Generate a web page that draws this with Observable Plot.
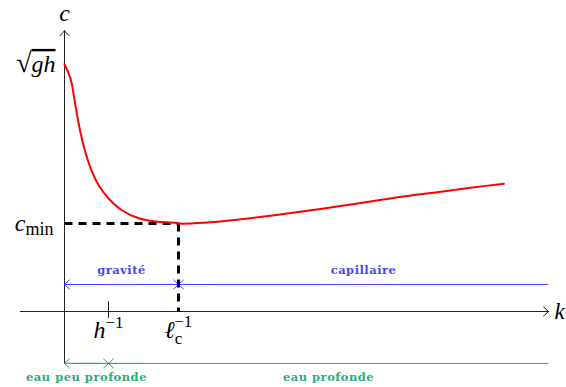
<!DOCTYPE html>
<html>
<head>
<meta charset="utf-8">
<script src="https://cdn.jsdelivr.net/npm/d3@7"></script>
<script src="https://cdn.jsdelivr.net/npm/@observablehq/plot@0.6"></script>
<style>
  html, body { margin: 0; padding: 0; background: #fff; }
  svg { display: block; }
</style>
</head>
<body>
<div id="chart"></div>
<script>
// Phase speed c(k) of surface waves — k in units of 1/ℓc, c in units of c_min
const kCurve = [0, 0.053, 0.096, 0.140, 0.184, 0.243, 0.301, 0.389, 0.506, 0.652, 0.798, 0.974, 1.0,
                1.222, 1.515, 1.807, 2.099, 2.392, 2.684, 2.976, 3.269, 3.561, 3.854];
const cCurve = [2.81, 2.644, 2.341, 2.034, 1.807, 1.583, 1.432, 1.281, 1.148, 1.060, 1.023, 1.008, 1.0,
                1.008, 1.042, 1.088, 1.140, 1.193, 1.250, 1.307, 1.356, 1.406, 1.451];

// Characteristic values
const hInv = 0.386;     // 1/h
const lcInv = 1;        // 1/ℓc
const cMin = 1;         // minimum phase speed
const sqrtGh = 2.81;    // shallow-water limit √(gh)

// Axis extents
const kAxis = [-0.386, 4.246];
const cAxis = [-0.59, 3.19];

// Regimes: boundaries along k, band level, names
const waveBounds = [0, lcInv, kAxis[1]];
const waveLevel = 0.307;
const waveNames = ["gravité", "capillaire"];
const depthBounds = [0, hInv, kAxis[1]];
const depthLevel = cAxis[0];
const depthNames = ["eau peu profonde", "eau profonde"];

const blue = "#4646ff";
const green = "#2eaa78";

const curve = kCurve.map((k, i) => ({k, c: cCurve[i]}));

// Arrow heads: "<" at the left end, "><" at the inner boundary
function heads(bounds, level) {
  const e = 0.3;
  return [
    {x1: bounds[0] + e, x2: bounds[0], y: level},
    {x1: bounds[1] - e, x2: bounds[1], y: level},
    {x1: bounds[1] + e, x2: bounds[1], y: level}
  ];
}
function labels(bounds, names) {
  return names.map((name, i) => ({name, k: (bounds[i] + bounds[i + 1]) / 2}));
}

const headOpts = {headLength: 10, headAngle: 85, strokeWidth: 1};
const mathFont = "'Liberation Serif', 'DejaVu Serif', serif";
const smallFont = "'DejaVu Serif', serif";

const svg = Plot.plot({
  width: 566,
  height: 387,
  margin: 0,
  x: {domain: [0, 1], range: [64, 178], axis: null},
  y: {domain: [0, 1], range: [311, 223], axis: null},
  style: {background: "white"},
  marks: [
    // axes
    Plot.arrow([0], {x1: kAxis[0], y1: 0, x2: kAxis[1], y2: 0, stroke: "#222", ...headOpts}),
    Plot.arrow([0], {x1: 0, y1: cAxis[0], x2: 0, y2: cAxis[1], stroke: "#222", ...headOpts}),
    // tick at 1/h
    Plot.ruleX([hInv], {y1: -0.08, y2: 0.11, stroke: "#222", strokeWidth: 1}),

    // regime bands
    Plot.link([0], {x1: waveBounds[0], x2: waveBounds[2], y1: waveLevel, y2: waveLevel, stroke: blue, strokeWidth: 1}),
    Plot.arrow(heads(waveBounds, waveLevel), {x1: "x1", x2: "x2", y1: "y", y2: "y", stroke: blue, ...headOpts}),
    Plot.text(labels(waveBounds, waveNames), {x: "k", y: () => waveLevel, text: "name", fill: blue,
      fontFamily: smallFont, fontSize: 11.5, fontWeight: 600, lineAnchor: "bottom", dy: -10}),

    Plot.link([0], {x1: depthBounds[0], x2: depthBounds[2], y1: depthLevel, y2: depthLevel, stroke: green, strokeWidth: 1}),
    Plot.arrow(heads(depthBounds, depthLevel), {x1: "x1", x2: "x2", y1: "y", y2: "y", stroke: green, ...headOpts}),
    Plot.text(labels(depthBounds, depthNames), {x: "k", y: () => depthLevel, text: "name", fill: green,
      fontFamily: smallFont, fontSize: 11.5, fontWeight: 600, lineAnchor: "bottom", dy: 18}),

    // minimum of c(k)
    Plot.link([0], {x1: 0, y1: cMin, x2: lcInv, y2: cMin, stroke: "black", strokeWidth: 3, strokeDasharray: "8,6"}),
    Plot.link([0], {x1: lcInv, y1: cMin, x2: lcInv, y2: 0, stroke: "black", strokeWidth: 3, strokeDasharray: "8,6"}),

    // dispersion curve
    Plot.line(curve, {x: "k", y: "c", stroke: "red", strokeWidth: 2, curve: "catmull-rom"}),

    // math labels
    Plot.text(["c"], {x: 0, y: cAxis[1], text: d => d, fontFamily: mathFont, fontSize: 24, lineAnchor: "bottom", dy: -10}),
    Plot.text(["k"], {x: kAxis[1], y: 0, text: d => d, fontFamily: mathFont, fontSize: 23, textAnchor: "start", dx: 6}),
    Plot.text(["√gh"], {x: 0, y: sqrtGh, text: d => d, fontFamily: mathFont, fontSize: 24, textAnchor: "end", dx: -9}),
    Plot.text(["cmin"], {x: 0, y: cMin, text: d => d, fontFamily: mathFont, fontSize: 24, textAnchor: "end", dx: -11}),
    Plot.text(["h−1"], {x: hInv, y: 0, text: d => d, fontFamily: mathFont, fontSize: 24, lineAnchor: "bottom", dy: 26}),
    Plot.text(["ℓc−1"], {x: lcInv, y: 0, text: d => d, fontFamily: mathFont, fontSize: 24, lineAnchor: "bottom", dy: 26})
  ]
});

// Typeset math labels with italic letters, sub- and superscripts
const rich = {
  "c": [{s: "c", italic: true}],
  "k": [{s: "k", italic: true}],
  "√gh": [{s: "√", size: 28}, {s: "gh", italic: true, overline: true}],
  "cmin": [{s: "c", italic: true}, {s: "min", size: 18, dy: 4}],
  "h−1": [{s: "h", italic: true}, {s: "−1", size: 17, dy: -10}],
  "ℓc−1": [{s: "ℓ", italic: true}, {s: "c", size: 17, dy: 6}, {s: "−1", size: 17, dx: -8, dy: -17}]
};
const spaced = new Set([...waveNames, ...depthNames]);
d3.select(svg).selectAll("text").each(function() {
  if (spaced.has(this.textContent)) {
    this.setAttribute("letter-spacing", "0.5");
    return;
  }
  const parts = rich[this.textContent];
  if (!parts) return;
  const t = d3.select(this).text(null);
  for (const p of parts) {
    const ts = t.append("tspan").text(p.s);
    if (p.italic) ts.attr("font-style", "italic");
    if (p.size) ts.attr("font-size", p.size);
    if (p.dx) ts.attr("dx", p.dx);
    if (p.dy) ts.attr("dy", p.dy);
    if (p.overline) ts.attr("text-decoration", "overline");
  }
});

document.getElementById("chart").appendChild(svg);
</script>
</body>
</html>
